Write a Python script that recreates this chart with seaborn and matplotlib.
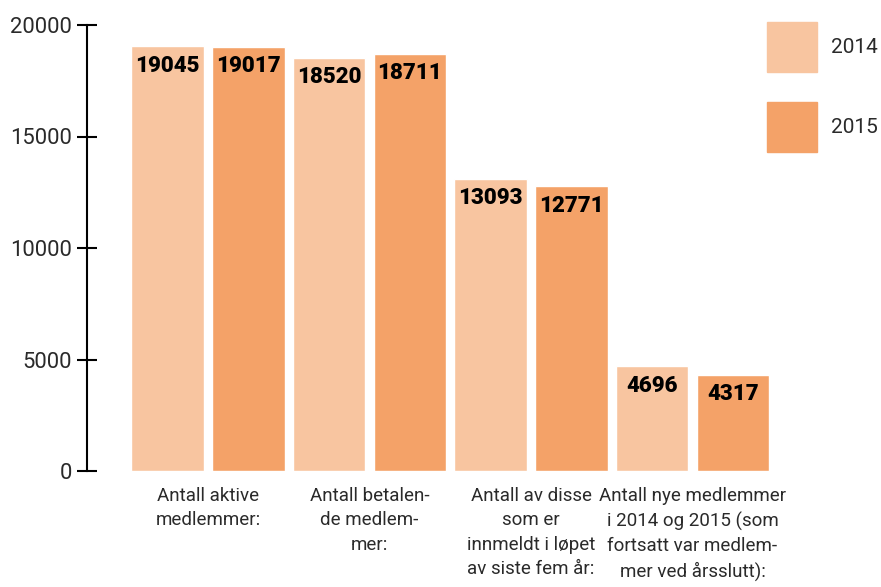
import pandas as pd
import matplotlib.pyplot as plt
import matplotlib.patches as mpatches
import seaborn as sns

# Data
categories = [
    "Antall aktive\nmedlemmer:",
    "Antall betalen-\nde medlem-\nmer:",
    "Antall av disse\nsom er\ninnmeldt i løpet\nav siste fem år:",
    "Antall nye medlemmer\ni 2014 og 2015 (som\nfortsatt var medlem-\nmer ved årsslutt):",
]
years = ["2014", "2015"]
values_2014 = [19045, 18520, 13093, 4696]
values_2015 = [19017, 18711, 12771, 4317]
colors = ["#F8C5A0", "#F4A268"]

df = pd.DataFrame({
    "kategori": categories * 2,
    "år": [years[0]] * 4 + [years[1]] * 4,
    "antall": values_2014 + values_2015,
})

sns.set_style("white")
plt.rcParams["font.family"] = ["Roboto", "DejaVu Sans"]

fig = plt.figure(figsize=(8.81, 5.87), dpi=100)
ax = fig.add_axes([87 / 881, 1 - 471 / 587, 1 - 87 / 881, (471 - 25) / 587])

sns.barplot(data=df, x="kategori", y="antall", hue="år", order=categories,
            hue_order=years, palette=colors, saturation=1, width=1.0, gap=0.1,
            legend=False, ax=ax)

# value labels inside the top of each bar
for cont in ax.containers:
    texts = ax.bar_label(cont, padding=-6, fontsize=16, fontweight="black",
                         color="black")
    for t in texts:
        t.set_va("top")

ax.set_ylim(0, 20000)
ax.set_xlim(-0.749, 4.167)
ax.set_yticks([0, 5000, 10000, 15000, 20000])
ax.set_xlabel("")
ax.set_ylabel("")

for side in ["top", "right", "bottom"]:
    ax.spines[side].set_visible(False)
ax.spines["left"].set_linewidth(1.5)
ax.spines["left"].set_color("black")

ax.tick_params(axis="y", left=True, direction="inout", length=13.7,
               width=1.5, pad=4, labelsize=15.8, color="black",
               labelcolor="#2a2a2a")
ax.tick_params(axis="x", bottom=False, length=0, pad=11.5)
for lbl in ax.get_xticklabels():
    lbl.set_fontsize(13.5)
    lbl.set_color("#2a2a2a")
    lbl.set_linespacing(1.45)
    lbl.set_va("top")

handles = [mpatches.Patch(color=c, label=y) for c, y in zip(colors, years)]
fig.legend(handles=handles, loc="upper left",
           bbox_to_anchor=(767 / 881, 1 - 22 / 587), frameon=False,
           fontsize=15, handlelength=2.38, handleheight=3.3,
           labelspacing=1.45, handletextpad=0.7, borderpad=0,
           borderaxespad=0, labelcolor="#2a2a2a")

fig.savefig("out.png", dpi=100)
